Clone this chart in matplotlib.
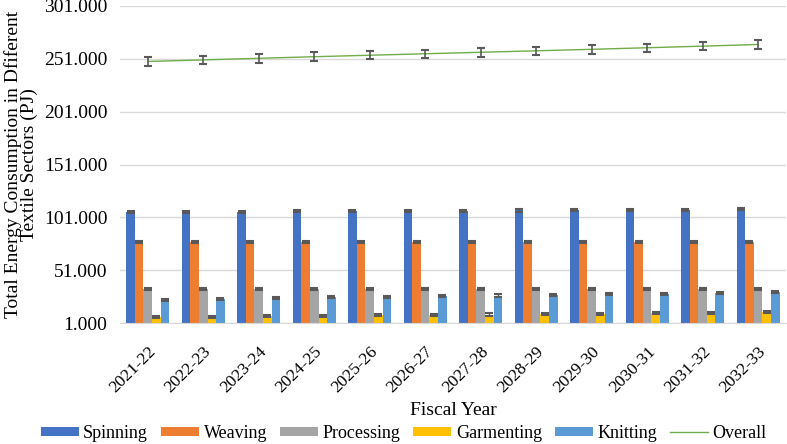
import matplotlib.pyplot as plt
import numpy as np

plt.rcParams['font.family'] = ['Liberation Serif', 'DejaVu Serif']

years = ['2021-22', '2022-23', '2023-24', '2024-25', '2025-26', '2026-27',
         '2027-28', '2028-29', '2029-30', '2030-31', '2031-32', '2032-33']
spinning = [106.0, 106.2, 106.4, 106.6, 106.8, 107.0, 107.3, 107.5, 107.8, 108.0, 108.3, 108.6]
weaving = [77.5, 77.5, 77.5, 77.6, 77.6, 77.6, 77.7, 77.7, 77.7, 77.8, 77.8, 77.8]
processing = [33.2, 33.2, 33.2, 33.2, 33.2, 33.2, 33.2, 33.2, 33.2, 33.2, 33.2, 33.2]
garmenting = [6.5, 7.0, 7.4, 7.8, 8.2, 8.6, 9.0, 9.4, 9.8, 10.2, 10.6, 11.0]
knitting = [22.5, 23.4, 24.3, 25.2, 25.8, 26.4, 27.0, 27.5, 28.1, 28.7, 29.4, 30.0]
overall = [248.5, 250.0, 251.5, 253.0, 254.4, 255.8, 257.2, 258.6, 260.0, 261.5, 263.0, 264.6]

sectors = ['Spinning', 'Weaving', 'Processing', 'Garmenting', 'Knitting']
values = [spinning, weaving, processing, garmenting, knitting]
colors = ['#4472C4', '#ED7D31', '#A5A5A5', '#FFC000', '#5B9BD5']

fig = plt.figure(figsize=(7.87, 4.44), dpi=100)
ax = fig.add_axes([0.1525, 0.2725, 0.846, 0.714])

x = np.arange(len(years))
w = 0.155
handles = []
for i, (name, vals, c) in enumerate(zip(sectors, values, colors)):
    pos = x + (i - 2) * w
    b = ax.bar(pos, vals, w, color=c, label=name, zorder=2)
    handles.append(b)
    ax.errorbar(pos, vals, yerr=1.0, fmt='none', ecolor='#595959',
                elinewidth=1, capsize=3, capthick=1.5, zorder=3)

ln, = ax.plot(x, overall, color='#70AD47', lw=1, label='Overall', zorder=3)
handles.append(ln)
ax.errorbar(x, overall, yerr=4.0, fmt='none', ecolor='#595959',
            elinewidth=1.2, capsize=3, capthick=1.5, zorder=4)

ax.set_xlim(-0.5, len(years) - 0.5)
ax.set_ylim(1, 301)
ax.set_yticks(np.arange(1, 302, 50))
ax.set_yticklabels([f'{v:.3f}' for v in np.arange(1, 302, 50)], fontsize=14)
ax.set_xticks(x)
ax.set_xticklabels(years, rotation=45, ha='right', rotation_mode='anchor', fontsize=12.5)
ax.tick_params(length=0)
ax.tick_params(axis='y', pad=9)
ax.tick_params(axis='x', pad=15)
ax.grid(axis='y', color='#D9D9D9', lw=1, zorder=0)
ax.set_axisbelow(True)
for s in ['top', 'right', 'left']:
    ax.spines[s].set_visible(False)
ax.spines['bottom'].set_color('#D9D9D9')

ax.set_xlabel('Fiscal Year', fontsize=14, labelpad=4)
ax.set_ylabel('Total Energy Consumption in Dfiferent\nTextile Sectors (PJ)', fontsize=14,
              linespacing=0.93, labelpad=4)

fig.legend(handles, sectors + ['Overall'], loc='center', bbox_to_anchor=(0.513, 0.024),
           ncol=6, frameon=False, fontsize=13, handlelength=2.1, handleheight=0.45,
           columnspacing=0.72, handletextpad=0.25, borderpad=0)

fig.savefig('out.png', dpi=100)
